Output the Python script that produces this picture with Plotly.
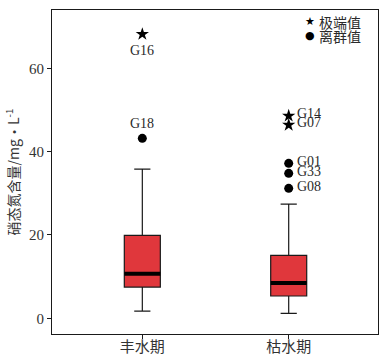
import plotly.graph_objects as go

categories = ["丰水期", "枯水期"]
q1 = [7.5, 5.35]
median = [10.7, 8.5]
q3 = [19.9, 15.1]
lower = [1.7, 1.2]
upper = [35.8, 27.4]

extreme_cat = [0, 1, 1]
extreme_val = [68.2, 48.6, 46.4]
extreme_lbl = ["G16", "G14", "G07"]

outlier_cat = [0, 1, 1, 1]
outlier_val = [43.2, 37.2, 34.8, 31.2]
outlier_lbl = ["G18", "G01", "G33", "G08"]

yticks = [0, 20, 40, 60]

BOX_W = 0.246
RED = "#e0373c"
SERIF = "Liberation Serif, Noto Sans CJK SC, serif"
CJK = "Noto Sans CJK SC, sans-serif"
TXT = "#2a2a2a"

fig = go.Figure()
for i, c in enumerate(categories):
    fig.add_trace(go.Box(
        x=[i], q1=[q1[i]], median=[median[i]], q3=[q3[i]],
        lowerfence=[lower[i]], upperfence=[upper[i]],
        boxpoints=False, width=BOX_W, whiskerwidth=0.45,
        fillcolor=RED, line=dict(color="#1a1a1a", width=1.2),
        showlegend=False, hoverinfo="skip"))
    fig.add_trace(go.Scatter(
        x=[i - BOX_W / 2, i + BOX_W / 2], y=[median[i], median[i]],
        mode="lines", line=dict(color="black", width=4),
        showlegend=False, hoverinfo="skip"))

fig.add_trace(go.Scatter(x=extreme_cat, y=extreme_val, mode="markers",
                         marker=dict(symbol="star", size=10, color="black",
                                     line=dict(width=0)),
                         showlegend=False))
fig.add_trace(go.Scatter(x=outlier_cat, y=outlier_val, mode="markers",
                         marker=dict(symbol="circle", size=9, color="black",
                                     line=dict(width=0)),
                         showlegend=False))

# labels
for cx, v, t in zip(extreme_cat + outlier_cat, extreme_val + outlier_val,
                    extreme_lbl + outlier_lbl):
    f = dict(family=SERIF, size=14, color=TXT)
    if cx == 0:
        shift = -16 if t == "G16" else 15
        fig.add_annotation(x=cx, y=v, text=t, showarrow=False, yshift=shift,
                           xanchor="center", yanchor="middle", font=f)
    else:
        fig.add_annotation(x=cx, y=v, text=t, showarrow=False, xanchor="left",
                           yanchor="middle", xshift=6, yshift=2, font=f)

# legend
LEG_Y = [0.963, 0.921]
fig.add_annotation(xref="paper", yref="paper", x=0.791, y=LEG_Y[0],
                   xanchor="center", yanchor="middle",
                   text="★", showarrow=False,
                   font=dict(family="DejaVu Sans", size=11, color="black"))
fig.add_annotation(xref="paper", yref="paper", x=0.791, y=LEG_Y[1],
                   xanchor="center", yanchor="middle",
                   text="●", showarrow=False,
                   font=dict(family="DejaVu Sans", size=11, color="black"))
fig.add_annotation(xref="paper", yref="paper", x=0.812, y=LEG_Y[0],
                   xanchor="left", yanchor="middle",
                   text="极端值", showarrow=False,
                   font=dict(family=CJK, size=14, color=TXT))
fig.add_annotation(xref="paper", yref="paper", x=0.812, y=LEG_Y[1],
                   xanchor="left", yanchor="middle",
                   text="离群值", showarrow=False,
                   font=dict(family=CJK, size=14, color=TXT))

fig.update_layout(
    width=388, height=359,
    margin=dict(l=52, r=10, t=10, b=25, autoexpand=False),
    plot_bgcolor="white", paper_bgcolor="white",
    xaxis=dict(range=[-0.617, 1.61], tickvals=[0, 1], ticktext=categories,
               automargin=False,
               showgrid=False, zeroline=False, showline=True, mirror=True,
               linecolor="#1a1a1a", linewidth=1.2, ticks="outside", ticklen=4,
               tickcolor="#1a1a1a", ticklabelstandoff=-5,
               tickfont=dict(family=CJK, size=15, color="#333")),
    yaxis=dict(range=[-3.77, 74], tickvals=yticks, showgrid=False,
               automargin=False,
               zeroline=False, showline=True, mirror=True,
               linecolor="#1a1a1a", linewidth=1.2, ticks="outside", ticklen=4,
               tickcolor="#1a1a1a",
               tickfont=dict(family=SERIF, size=15, color="#333"),
               title=dict(text="硝态氮含量/mg·L<sup>-1</sup>", standoff=6,
                          font=dict(family=CJK, size=14, color="#333"))),
)

fig.write_html("out.html", config={"displayModeBar": False},
               post_script="document.body.style.margin='0';document.body.style.padding='0';")
